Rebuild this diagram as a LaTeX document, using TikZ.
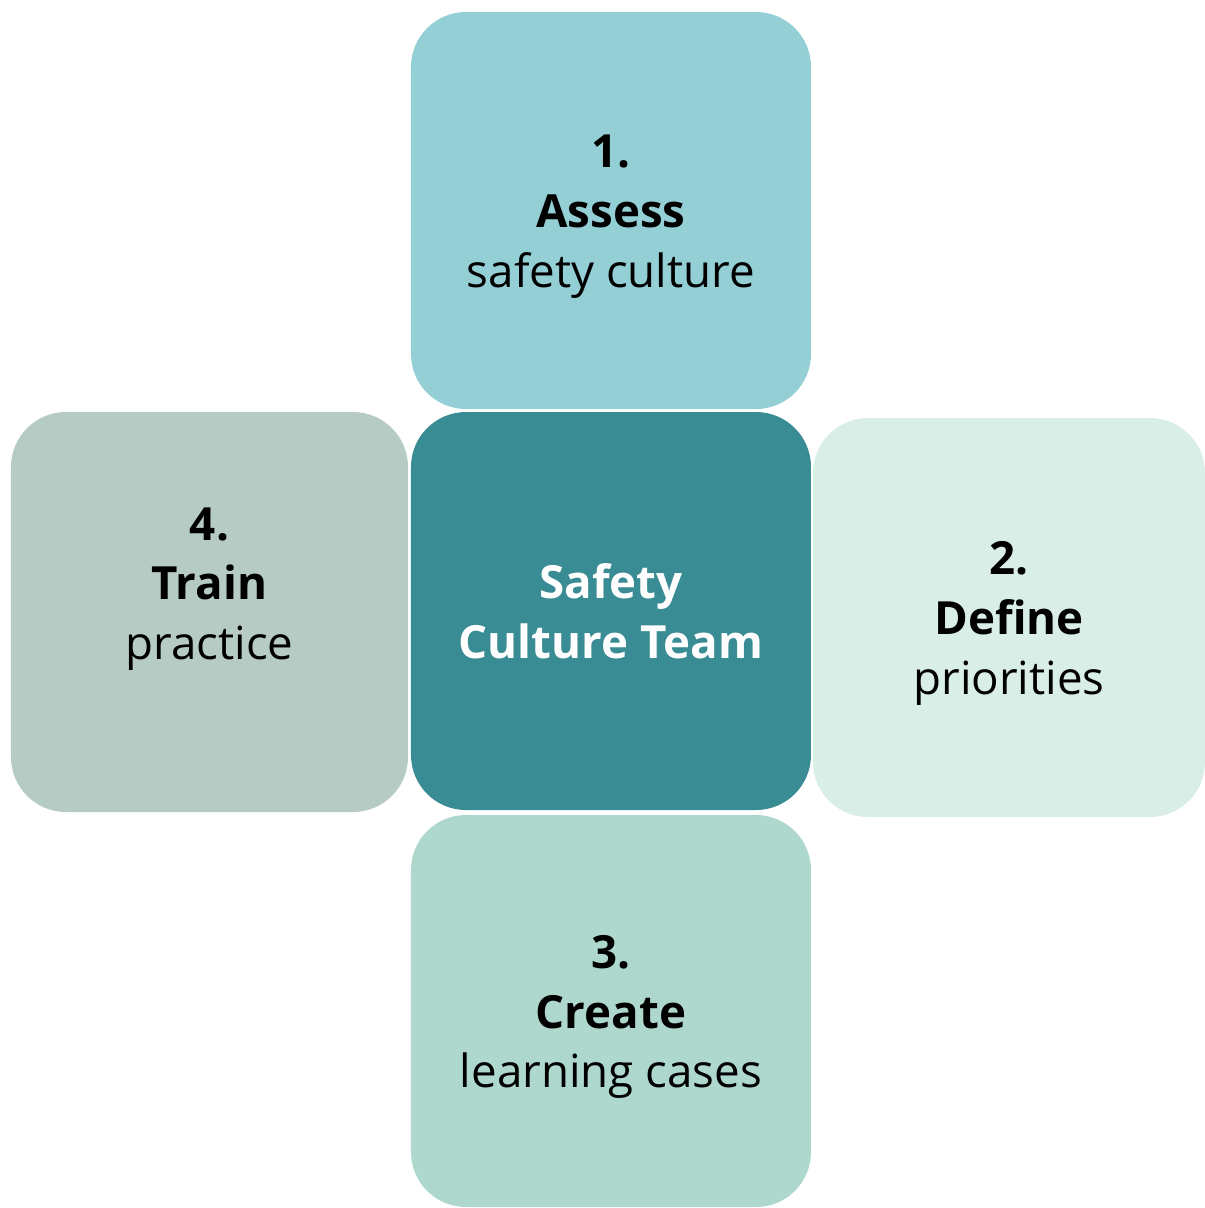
\documentclass[tikz,border=0pt]{standalone}
\usepackage{fontspec}
\setmainfont{Open Sans}
\definecolor{assesscol}{HTML}{93CFD5}
\definecolor{teamcol}{HTML}{3A8C94}
\definecolor{definecol}{HTML}{DAEEE8}
\definecolor{createcol}{HTML}{AED8CD}
\definecolor{traincol}{HTML}{B5CBC4}
\tikzset{
  tile/.style={rectangle,rounded corners=0.55cm,minimum width=4cm,minimum height=4cm,inner sep=0pt},
  tiletext/.style={align=center,font=\fontsize{13}{17}\selectfont,text=black,yshift=-0.06cm}
}
\begin{document}
\begin{tikzpicture}
  \useasboundingbox (0,0) rectangle (12.05,-12.08);
  % draw assess box
  \node at(6.11,-2.105)[tile,fill=assesscol,minimum height=3.97cm](assess){};
  % draw team box
  \node at(6.11,-6.11)[tile,fill=teamcol,minimum height=3.98cm](team){};
  % draw train box
  \node at(2.095,-6.12)[tile,fill=traincol,minimum width=3.97cm](train){};
  % draw define box
  \node at(10.09,-6.175)[tile,fill=definecol,minimum width=3.92cm,minimum height=3.99cm](define){};
  % draw create box
  \node at(6.11,-10.11)[tile,fill=createcol,minimum height=3.92cm](create){};
  % draw the texts
  \node at(assess)[tiletext](assesstext){\textbf{1.}\\\textbf{Assess}\\safety culture};
  \node at(team)[tiletext,text=white,font=\fontsize{13}{17}\selectfont\bfseries,yshift=0.06cm](teamtext){Safety\\Culture Team};
  \node at(define)[tiletext](definetext){\textbf{2.}\\\textbf{Define}\\priorities};
  \node at(create)[tiletext](createtext){\textbf{3.}\\\textbf{Create}\\learning cases};
  \node at(train)[tiletext,yshift=0.29cm](traintext){\textbf{4.}\\\textbf{Train}\\practice};
\end{tikzpicture}
\end{document}
